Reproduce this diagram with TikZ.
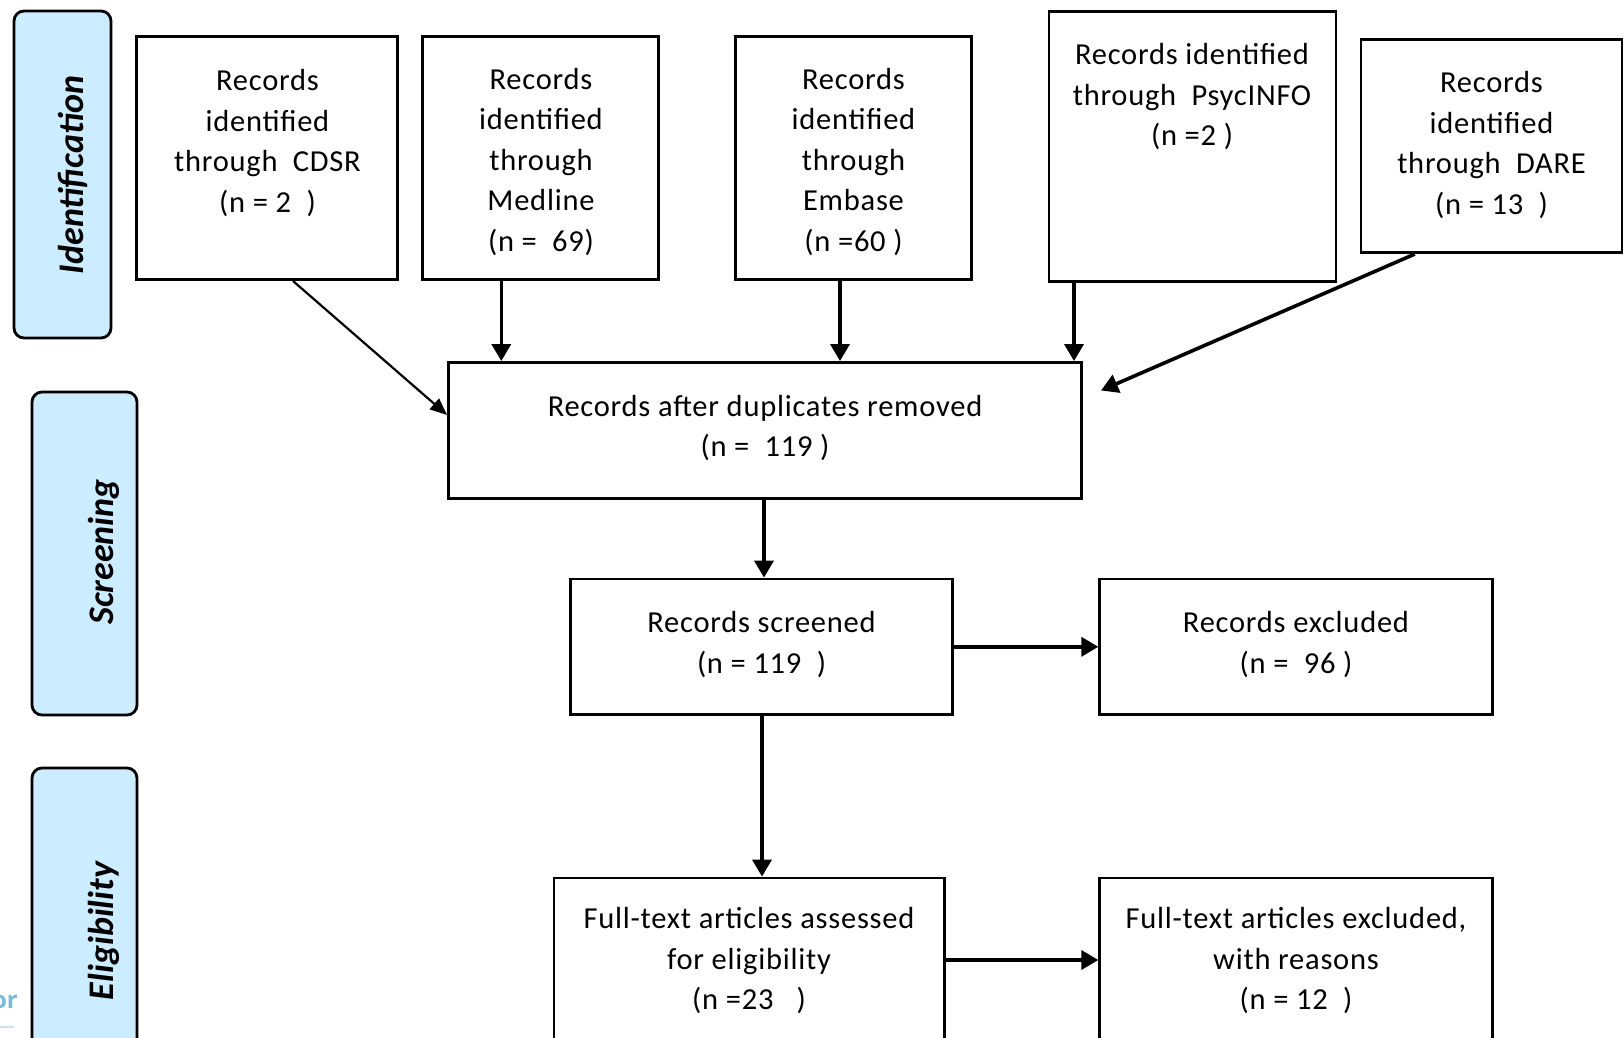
\documentclass[tikz,border=0pt]{standalone}
\usepackage{fontspec}
\setmainfont{Carlito}[LetterSpace=2.5]
\newfontfamily\sidefont{Carlito}
\newfontfamily\wmfont{Open Sans}
\usetikzlibrary{arrows.meta}
\definecolor{sidefill}{RGB}{204,236,255}
\definecolor{wm}{RGB}{120,188,220}
\begin{document}
\begin{tikzpicture}[x=1pt,y=-1pt,
 box/.style={draw=black,line width=2.8pt,fill=white,inner sep=0pt,align=center,font=\fontsize{30.5}{40.5}\selectfont},
 txt/.style={inner sep=0pt,align=center,font=\fontsize{30.5}{40.5}\selectfont},
 side/.style={draw=black,line width=2.8pt,fill=sidefill,rounded corners=10pt},
 sidetxt/.style={rotate=90,inner sep=0pt,font=\sidefont\fontsize{36}{40}\selectfont\bfseries\itshape},
 arr/.style={line width=3.6pt,-{Triangle[length=17pt,width=19pt]}},
 thinarr/.style={line width=2.2pt,-{Triangle[length=17pt,width=14pt]}}]
\useasboundingbox (0,0) rectangle (1624,1038);
\clip (0,0) rectangle (1624,1038);
\fill[white] (0,0) rectangle (1624,1038);

% side phase boxes
\node[side, minimum width=97, minimum height=327] (idbox) at (62.5,174.5) {};
\node[side, minimum width=105, minimum height=323] (scrbox) at (84.5,553.5) {};
\node[side, minimum width=105, minimum height=332] (elbox) at (84.5,934) {};
\node[sidetxt] (idtxt) at (73,175) {Identification};
\node[sidetxt] (scrtxt) at (104,552) {Screening};
\node[sidetxt] (eltxt) at (104,931) {Eligibility};

% identification boxes
\node[box, minimum width=261, minimum height=243.4] (cdsr) at (267.2,157.9) {};
\node[txt] (cdsrtxt) at (267.5,143) {Records\\identified\\through\ \ CDSR\\(n = 2\ \ )};
\node[box, minimum width=236, minimum height=243.4] (medline) at (540.6,157.9) {};
\node[txt] (medtxt) at (541,162) {Records\\identified\\through\\Medline\\(n =\ \ 69)};
\node[box, minimum width=236, minimum height=243.4] (embase) at (853.4,157.9) {};
\node[txt] (embtxt) at (853.5,162) {Records\\identified\\through\\Embase\\(n =60 )};
\node[box, minimum width=287, minimum height=270.3] (psyc) at (1192.5,146.5) {};
\node[txt] (psyctxt) at (1192,97) {Records identified\\through\ \ PsycINFO\\(n =2 )};
\node[box, minimum width=261, minimum height=213.3] (dare) at (1491.5,146) {};
\node[txt] (daretxt) at (1491.5,145) {Records\\identified\\through\ \ DARE\\(n = 13\ \ )};

% flow boxes
\node[box, minimum width=632.8, minimum height=135.7] (dup) at (764.9,430.3) {};
\node[txt] (duptxt) at (765,428) {Records after duplicates removed\\(n =\ \ 119 )};
\node[box, minimum width=382, minimum height=135.6] (scr) at (761.7,646.8) {};
\node[txt] (scrtxt2) at (761.5,644.5) {Records screened\\(n = 119\ \ )};
\node[box, minimum width=392.5, minimum height=135.6] (exc) at (1296,646.8) {};
\node[txt] (exctxt) at (1296,644.5) {Records excluded\\(n =\ \ 96 )};
\node[box, minimum width=390.6, minimum height=222] (ft) at (749.3,989) {};
\node[txt] (fttxt) at (749,961) {Full-text articles assessed\\for eligibility\\(n =23\ \ \ )};
\node[box, minimum width=392.5, minimum height=222] (ftexc) at (1296,989) {};
\node[txt] (ftexctxt) at (1296,961) {Full-text articles excluded,\\with reasons\\(n = 12\ \ )};

% connectors
\coordinate (dareend) at (1101,390.5);
\draw[thinarr] (293,0 |- cdsr.south) -- (dup.west |- 0,415);
\draw[arr] (501.3,0 |- medline.south) -- (501.3,0 |- dup.north);
\draw[arr] (840,0 |- embase.south) -- (840,0 |- dup.north);
\draw[arr] (1074,0 |- psyc.south) -- (1074,0 |- dup.north);
\draw[arr] (1414.8,0 |- dare.south) -- (dareend);
\draw[arr] (764,0 |- dup.south) -- (764,0 |- scr.north);
\draw[arr] (762,0 |- scr.south) -- (762,0 |- ft.north);
\draw[arr] (scr.east) -- (exc.west);
\draw[arr] (ft.east |- 0,960) -- (ftexc.west |- 0,960);

% watermark fragment
\node[text=wm, inner sep=0pt, anchor=base east, font=\wmfont\fontsize{24}{24}\selectfont\bfseries] (wmtxt) at (18,1008) {or};
\draw[wm!40, line width=1.5pt] (0,1027) -- (14,1027);
\end{tikzpicture}
\end{document}
